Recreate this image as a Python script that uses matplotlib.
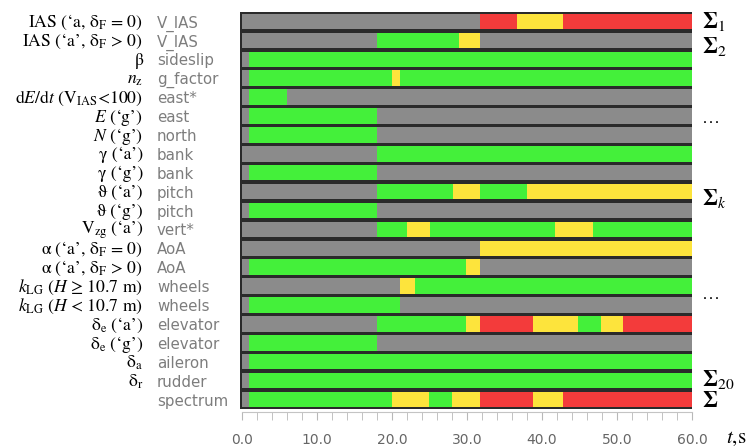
import matplotlib
matplotlib.use('Agg')
import matplotlib.pyplot as plt
from matplotlib import transforms
from matplotlib.ticker import MultipleLocator, FormatStrFormatter

plt.rcParams['mathtext.fontset'] = 'stix'

W, H = 756, 448

math_labels = [
    "IAS (‘a, δ$_\\mathrm{F}$ = 0)",
    "IAS (‘a’, δ$_\\mathrm{F}$ > 0)",
    "β",
    "$n_\\mathrm{z}$",
    "d$E$/d$t$ (V$_\\mathrm{IAS}$<100)",
    "$E$ (‘g’)",
    "$N$ (‘g’)",
    "γ (‘a’)",
    "γ (‘g’)",
    "ϑ (‘a’)",
    "ϑ (‘g’)",
    "V$_\\mathrm{zg}$ (‘a’)",
    "α (‘a’, δ$_\\mathrm{F}$ = 0)",
    "α (‘a’, δ$_\\mathrm{F}$ > 0)",
    "$k_\\mathrm{LG}$ ($H$ ≥ 10.7 m)",
    "$k_\\mathrm{LG}$ ($H$ < 10.7 m)",
    "δ$_\\mathrm{e}$ (‘a’)",
    "δ$_\\mathrm{e}$ (‘g’)",
    "δ$_\\mathrm{a}$",
    "δ$_\\mathrm{r}$",
    "",
]

channel_names = ["V_IAS", "V_IAS", "sideslip", "g_factor", "east*", "east", "north",
                 "bank", "bank", "pitch", "pitch", "vert*", "AoA", "AoA", "wheels",
                 "wheels", "elevator", "elevator", "aileron", "rudder", "spectrum"]

# segment boundaries (s) and states per row: N=no data, G=green, Y=yellow, R=red
seg_bounds = [
    [0, 31.7, 36.7, 42.8, 60],
    [0, 18.0, 28.9, 31.7, 60],
    [0, 0.9, 60],
    [0, 0.9, 20.0, 21.1, 60],
    [0, 0.9, 6.0, 60],
    [0, 0.9, 18.0, 60],
    [0, 0.9, 18.0, 60],
    [0, 18.0, 60],
    [0, 0.9, 18.0, 60],
    [0, 18.0, 28.1, 31.7, 38.0, 60],
    [0, 0.9, 18.0, 60],
    [0, 18.0, 22.0, 25.0, 41.7, 46.8, 60],
    [0, 31.7, 60],
    [0, 0.9, 29.9, 31.7, 60],
    [0, 21.1, 23.1, 60],
    [0, 0.9, 21.1, 60],
    [0, 18.0, 29.9, 31.7, 38.8, 44.8, 47.9, 50.8, 60],
    [0, 0.9, 18.0, 60],
    [0, 0.9, 60],
    [0, 0.9, 60],
    [0, 0.9, 20.0, 24.9, 28.0, 31.7, 38.8, 42.8, 60],
]
seg_states = ["NRYR", "NGYN", "NG", "NGYG", "NGN", "NGN", "NGN", "NG", "NGN",
              "NGYGY", "NGN", "NGYGYG", "NY", "NGYN", "NYG", "NGN", "NGYRYGYR",
              "NGN", "NG", "NG", "NGYGYRYR"]

right_labels = [r"$\mathbf{\Sigma}_{1}$", r"$\mathbf{\Sigma}_{2}$", "…", r"$\mathbf{\Sigma}_{k}$",
                "…", r"$\mathbf{\Sigma}_{20}$", r"$\mathbf{\Sigma}$"]
right_label_rows = [0.35, 1.67, 5.39, 9.73, 14.66, 19.28, 20.39]

x_ticks = [0, 10, 20, 30, 40, 50, 60]

state_colors = {'N': '#8b8b8b', 'G': '#44f03a', 'Y': '#fde43c', 'R': '#f33b3b'}

fig = plt.figure(figsize=(W / 100, H / 100), dpi=100)
left_px, right_px, top_px, bot_px = 239.75, 692.0, 12.0, 409.0
ax = fig.add_axes([left_px / W, 1 - bot_px / H, (right_px - left_px) / W, (bot_px - top_px) / H])
ax.set_facecolor('#2a2a2a')

for i, (b, s) in enumerate(zip(seg_bounds, seg_states)):
    lefts = b[:-1]
    widths = [b[k + 1] - b[k] for k in range(len(b) - 1)]
    cols = [state_colors[c] for c in s]
    ax.barh([i] * len(lefts), widths, left=lefts, height=0.82, color=cols, linewidth=0)

ax.set_xlim(-0.3, 60)
ax.set_ylim(len(seg_bounds) - 0.5, -0.5)
ax.set_yticks([])
for sp in ['top', 'left', 'right']:
    ax.spines[sp].set_visible(False)
ax.spines['bottom'].set_position(('outward', 2.5))
ax.spines['bottom'].set_color('#c4c4c4')
ax.spines['bottom'].set_bounds(0, 60)
ax.set_xticks(x_ticks)
ax.xaxis.set_major_formatter(FormatStrFormatter('%.1f'))
ax.xaxis.set_minor_locator(MultipleLocator(2))
ax.tick_params(axis='x', which='both', length=5.8, color='#b8b8b8', direction='out')
ax.tick_params(axis='x', which='major', pad=9, labelsize=10, labelcolor='#666666')

trans = transforms.blended_transform_factory(fig.transFigure, ax.transData)
for i, (ml, nm) in enumerate(zip(math_labels, channel_names)):
    if ml:
        off = 0.23 if 'zg' in ml else 0.3
        ax.text(143 / W, i + off, ml, transform=trans, ha='right', va='baseline',
                fontsize=12.7, family='STIXGeneral', color='black')
    ax.text(157 / W, i + 0.32, nm, transform=trans, ha='left', va='baseline',
            fontsize=10.8, family='DejaVu Sans', color='#7d7d7d')

for lab, r in zip(right_labels, right_label_rows):
    ax.text(702 / W, r, lab, transform=trans, ha='left', va='baseline',
            fontsize=16 if lab != "…" else 13, family='STIXGeneral', color='black')

fig.text(726 / W, 1 - 443 / H, "$t$,s", ha='left', va='baseline', fontsize=15,
         family='STIXGeneral', color='black')

fig.savefig('out.png', dpi=100)
